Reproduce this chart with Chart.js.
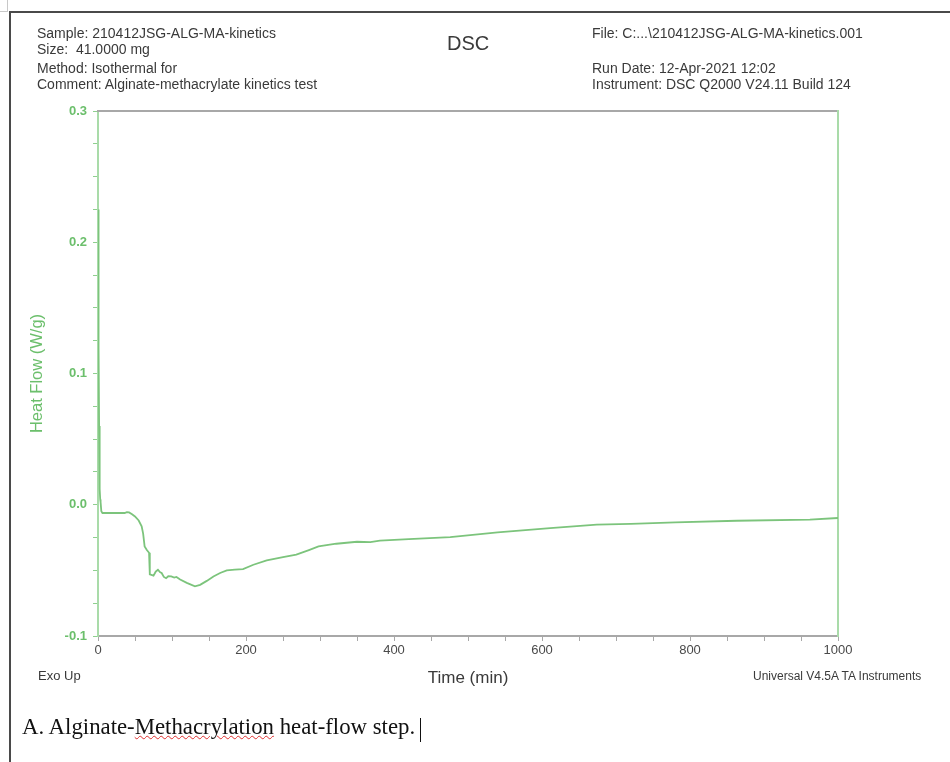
<!DOCTYPE html>
<html>
<head>
<meta charset="utf-8">
<script src="https://cdn.jsdelivr.net/npm/chart.js@4.4.0/dist/chart.umd.min.js"></script>
<style>
  body { margin: 0; background: #fff; }
  #page { position: relative; width: 950px; height: 762px; overflow: hidden; }
  #dscChart { position: absolute; left: 0; top: 0; }
  .txt { position: absolute; font-family: "Liberation Sans", Arial, sans-serif; color: #3a3a3a; white-space: nowrap; }
  .hdr { font-size: 14px; line-height: 16px; }
  .edge { position: absolute; background: #4a4a4a; }
  .mark { position: absolute; background: #c8c8c8; }
</style>
</head>
<body>
<div id="page">
  <canvas id="dscChart" width="950" height="762"></canvas>

  <div class="mark" style="left:0;top:11px;width:8px;height:1px"></div>
  <div class="mark" style="left:7px;top:0;width:1px;height:11px"></div>
  <div class="edge" style="left:9px;top:11px;width:941px;height:2px"></div>
  <div class="edge" style="left:9px;top:11px;width:2px;height:751px"></div>

  <div class="txt hdr" style="left:37px;top:25px">Sample: 210412JSG-ALG-MA-kinetics</div>
  <div class="txt hdr" style="left:37px;top:41px">Size:&nbsp; 41.0000 mg</div>
  <div class="txt hdr" style="left:37px;top:60px">Method: Isothermal for</div>
  <div class="txt hdr" style="left:37px;top:76px">Comment: Alginate-methacrylate kinetics test</div>
  <div class="txt" style="left:447px;top:32px;font-size:20px">DSC</div>
  <div class="txt hdr" style="left:592px;top:25px">File: C:...\210412JSG-ALG-MA-kinetics.001</div>
  <div class="txt hdr" style="left:592px;top:60px">Run Date: 12-Apr-2021 12:02</div>
  <div class="txt hdr" style="left:592px;top:76px">Instrument: DSC Q2000 V24.11 Build 124</div>

  <div class="txt" style="left:38px;top:668px;font-size:13px">Exo Up</div>
  <div class="txt" style="left:753px;top:669px;font-size:12px">Universal V4.5A TA Instruments</div>

  <div class="txt" style="left:22px;top:714px;font-family:'Liberation Serif','Times New Roman',serif;font-size:22.8px;color:#111">A. Alginate-<span style="text-decoration:underline wavy #e03030;text-decoration-thickness:1px">Methacrylation</span> heat-flow step.</div>
  <div style="position:absolute;left:420px;top:718px;width:1px;height:24px;background:#111"></div>
</div>

<script>
// time in minutes, heat flow in W/g
const timeMin = [0, 0.5, 1, 1.5, 2, 2.5, 3, 3.5, 4.5, 6, 20, 36, 39, 42, 46, 50, 55, 59, 61, 63,
  66, 69, 70, 75, 78, 81, 84, 86, 89, 92, 95, 99, 103, 106, 111, 120, 131, 138, 147, 156,
  165, 174, 185, 196, 210, 228, 250, 268, 285, 298, 322, 350, 368, 381, 420, 476, 540, 611,
  674, 720, 780, 863, 962, 1000];
const heatFlow = [0.225, 0.2, 0.12, 0.06, 0.03, 0.012, 0.004, 0.002, -0.005, -0.0063, -0.0063, -0.0063, -0.0056, -0.0058, -0.0072, -0.0089, -0.012, -0.0165, -0.022, -0.0317,
  -0.0345, -0.0366, -0.053, -0.054, -0.051, -0.0495, -0.0515, -0.052, -0.055, -0.056, -0.0545, -0.0546, -0.0555, -0.055, -0.057, -0.0595, -0.0622, -0.061, -0.058, -0.0546,
  -0.052, -0.05, -0.0495, -0.049, -0.0457, -0.0424, -0.0399, -0.038, -0.0345, -0.0317, -0.0297, -0.0282, -0.0284, -0.0274, -0.0262, -0.0246, -0.021, -0.0178,
  -0.0152, -0.0145, -0.0135, -0.0122, -0.0114, -0.0101];
const xTickLabels = [0, 200, 400, 600, 800, 1000];
const yTickLabels = ['-0.1', '0.0', '0.1', '0.2', '0.3'];

const green = '#7cc47c';
const axisGreen = '#a9dba9';
const tickGreen = '#8fcf8f';
const axisGray = '#a8a8a8';

const points = timeMin.map((t, i) => ({ x: t, y: heatFlow[i] }));

const ctx = document.getElementById('dscChart').getContext('2d');
new Chart(ctx, {
    type: 'line',
    data: {
        datasets: [{
            data: points,
            borderColor: green,
            borderWidth: 1.8,
            pointRadius: 0,
            tension: 0,
            fill: false
        }]
    },
    options: {
        responsive: false,
        animation: false,
        layout: { padding: { left: 18, top: 111, right: 112, bottom: 66 } },
        plugins: { legend: { display: false }, tooltip: { enabled: false } },
        scales: {
            x: {
                type: 'linear',
                position: 'bottom',
                min: 0,
                max: 1000,
                afterFit: function(scale) { scale.height = 60; },
                border: { color: axisGray, width: 2 },
                grid: { drawOnChartArea: false, drawTicks: true, tickLength: 5, color: axisGray },
                ticks: {
                    stepSize: 50,
                    autoSkip: false,
                    maxRotation: 0,
                    padding: 2,
                    color: '#4a4a4a',
                    font: { family: 'Liberation Sans', size: 13 },
                    callback: function(value) {
                        return xTickLabels.includes(value) ? String(value) : '';
                    }
                },
                title: {
                    display: true,
                    text: 'Time (min)',
                    color: '#3a3a3a',
                    font: { family: 'Liberation Sans', size: 17 },
                    padding: { top: 0, bottom: 7 }
                }
            },
            y: {
                type: 'linear',
                position: 'left',
                min: -0.1,
                max: 0.3,
                afterFit: function(scale) { scale.width = 80; },
                border: { color: axisGreen, width: 2 },
                grid: { drawOnChartArea: false, drawTicks: true, tickLength: 5, color: tickGreen },
                ticks: {
                    stepSize: 0.025,
                    autoSkip: false,
                    padding: 6,
                    color: '#6cbf6c',
                    font: { family: 'Liberation Sans', size: 13, weight: 'bold' },
                    callback: function(value) {
                        const label = value.toFixed(1);
                        return Math.abs(value * 10 - Math.round(value * 10)) < 1e-6 && yTickLabels.includes(label) ? label : '';
                    }
                },
                title: {
                    display: true,
                    text: 'Heat Flow (W/g)',
                    color: '#6cbf6c',
                    font: { family: 'Liberation Sans', size: 16.5 },
                    padding: { top: 10, bottom: 0 }
                }
            },
            xTop: {
                type: 'linear',
                position: 'top',
                min: 0,
                max: 1000,
                afterFit: function(scale) { scale.height = 0; },
                border: { color: axisGray, width: 2 },
                grid: { display: false, drawTicks: false },
                ticks: { display: false }
            },
            yRight: {
                type: 'linear',
                position: 'right',
                min: -0.1,
                max: 0.3,
                afterFit: function(scale) { scale.width = 0; },
                border: { color: axisGreen, width: 2 },
                grid: { display: false, drawTicks: false },
                ticks: { display: false }
            }
        }
    }
});
</script>
</body>
</html>
